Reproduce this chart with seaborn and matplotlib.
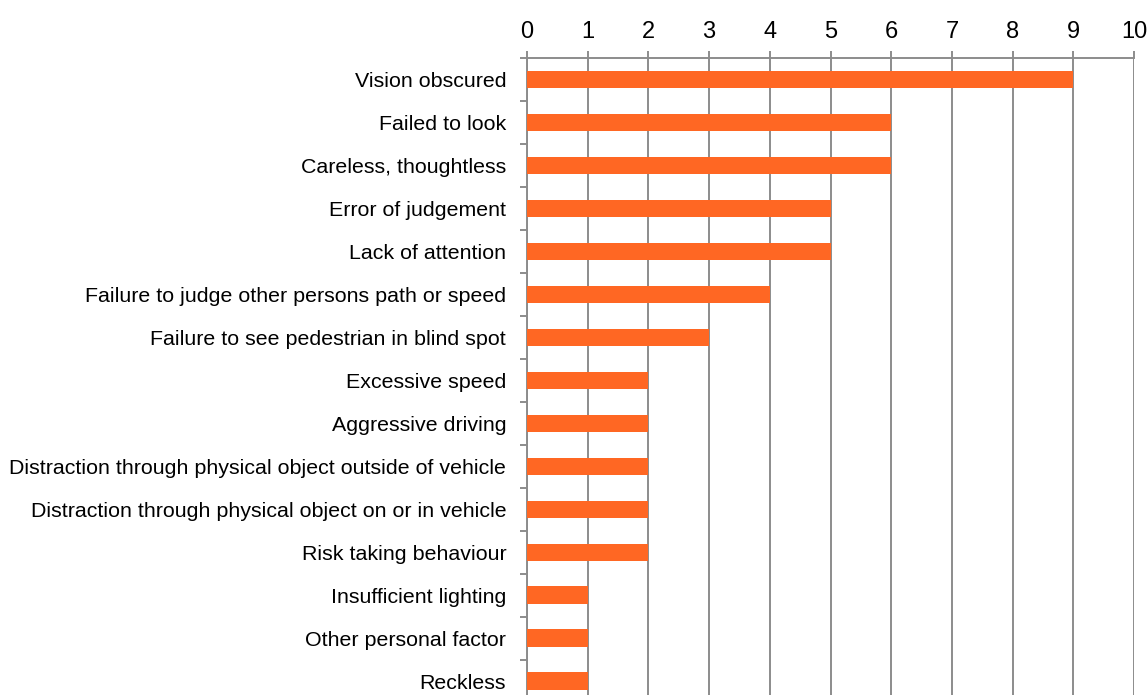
import matplotlib
matplotlib.use("Agg")
import matplotlib.pyplot as plt
import seaborn as sns
import pandas as pd
import numpy as np

categories = [
    "Vision obscured",
    "Failed to look",
    "Careless, thoughtless",
    "Error of judgement",
    "Lack of attention",
    "Failure to judge other persons path or speed",
    "Failure to see pedestrian in blind spot",
    "Excessive speed",
    "Aggressive driving",
    "Distraction through physical object outside of vehicle",
    "Distraction through physical object on or in vehicle",
    "Risk taking behaviour",
    "Insufficient lighting",
    "Other personal factor",
    "Reckless",
]
values = [9, 6, 6, 5, 5, 4, 3, 2, 2, 2, 2, 2, 1, 1, 1]
x_ticks = [0, 1, 2, 3, 4, 5, 6, 7, 8, 9, 10]

sns.set_theme(style="white")
plt.rcParams['font.family'] = ['Liberation Sans', 'DejaVu Sans']

df = pd.DataFrame({"cat": categories, "val": values})

fig = plt.figure(figsize=(11.48, 6.95), dpi=100)
ax = fig.add_axes([527/1148, (695-702.5)/695, (1134-527)/1148, (702.5-58)/695])

sns.barplot(data=df, x="val", y="cat", orient="h", color="#ff6723",
            saturation=1, width=0.4, ax=ax, zorder=3, linewidth=0)

grid_c = "#8c8c8c"
ax.set_xlim(0, 10)
ax.set_ylim(len(categories) - 0.5, -0.5)
ax.set_xticks(x_ticks)
ax.xaxis.tick_top()
ax.xaxis.set_label_position('top')
ax.set_xlabel("")
ax.set_ylabel("")
ax.grid(axis='x', color=grid_c, linewidth=1.4, zorder=0)
ax.grid(axis='y', visible=False)
ax.set_axisbelow(True)

for s in ["bottom", "right"]:
    ax.spines[s].set_visible(False)
for s in ["top", "left"]:
    ax.spines[s].set_color(grid_c)
    ax.spines[s].set_linewidth(1.4)

ax.tick_params(axis='x', which='major', top=True, bottom=False, length=5,
               width=1.4, color=grid_c, labelsize=17, pad=6, labelcolor='black')
ax.tick_params(axis='y', which='major', left=False, labelsize=15.4, pad=9,
               labelcolor='black')
ax.set_yticks(np.arange(len(categories) + 1) - 0.5, minor=True)
ax.tick_params(axis='y', which='minor', left=True, length=5, width=1.4,
               color=grid_c)

fig.savefig("out.png", dpi=100)
